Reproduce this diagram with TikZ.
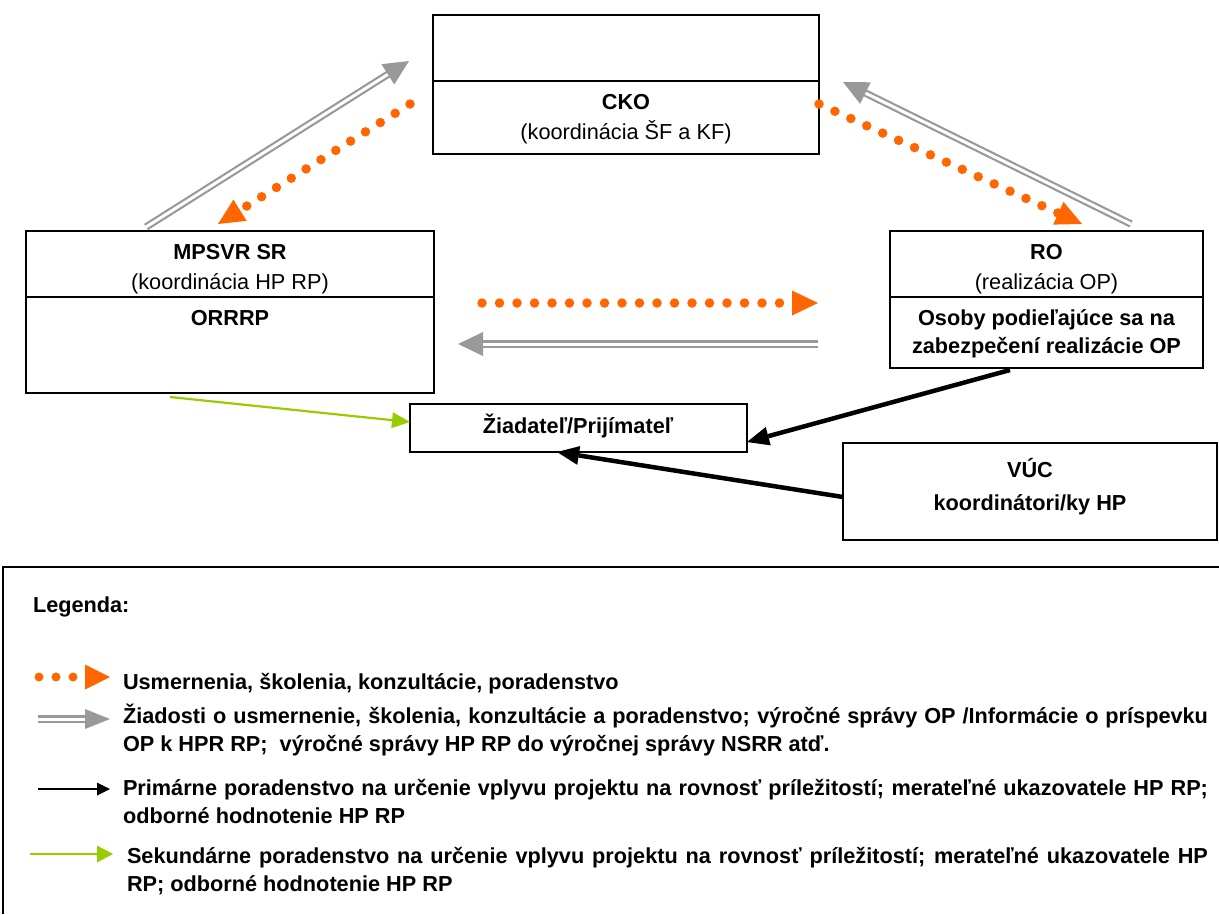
\documentclass[tikz,border=0pt]{standalone}
\usepackage{fontspec}
\setmainfont{Liberation Sans}
\usetikzlibrary{calc,arrows.meta}
\definecolor{orng}{RGB}{255,102,0}
\definecolor{gry}{RGB}{153,153,153}
\definecolor{grn}{RGB}{153,204,0}
\newcommand\arrtri[5]{%
  \coordinate (tmpb) at ($(#1)!#3!(#2)$);
  \fill[#5] (#1) -- ($(tmpb)!#4!90:(#1)$) -- ($(tmpb)!#4!-90:(#1)$) -- cycle;}
\newcommand\orangeconn[2]{%
  \draw[odots] (#1) -- ($(#2)!25pt!(#1)$);
  \arrtri{#2}{#1}{26pt}{12.5pt}{orng}}
\newcommand\grayconn[2]{%
  \draw[gdbl] (#1) -- ($(#2)!22pt!(#1)$);
  \arrtri{#2}{#1}{25pt}{12pt}{gry}}
\begin{document}
\begin{tikzpicture}[x=1pt,y=-1pt,
  every node/.style={inner sep=0pt, outer sep=0pt, font=\fontsize{21.7}{28}\selectfont},
  bx/.style={draw, line width=1.8pt, rectangle},
  txt/.style={anchor=base},
  btxt/.style={anchor=base, font=\fontsize{21.7}{28}\selectfont\bfseries},
  ltxt/.style={anchor=base west, font=\fontsize{21.7}{28}\selectfont\bfseries},
  odots/.style={draw=orng, line width=9.5pt, line cap=round, dash pattern=on 0pt off 17.5pt},
  gdbl/.style={draw=gry, line width=2.2pt, double=white, double distance=3pt},
  blk/.style={draw=black, line width=4.5pt, -{Triangle[length=22pt,width=19pt,line width=0pt]}},
  grnarr/.style={draw=grn, line width=2.2pt, -{Triangle[length=18pt,width=16pt,line width=0pt]}}
]
\useasboundingbox (0,0) rectangle (1219,914);

% boxes
\node[bx, minimum width=386pt, minimum height=139pt] (cko) at (626,84.5) {};
\draw[line width=1.8pt] (433,81) -- (819,81);
\node[bx, minimum width=408pt, minimum height=162pt] (mpsvr) at (230,312) {};
\draw[line width=1.8pt] (26,297) -- (434,297);
\node[bx, minimum width=313pt, minimum height=137pt] (ro) at (1046.5,299.5) {};
\draw[line width=1.8pt] (890,297) -- (1203,297);
\node[bx, minimum width=337pt, minimum height=48pt] (ziad) at (578.5,428) {};
\node[bx, minimum width=374pt, minimum height=97pt] (vuc) at (1030,491.5) {};

% texts
\node[btxt] (ckot) at (626,109) {CKO};
\node[txt] (ckos) at (626,139) {(koordinácia ŠF a KF)};
\node[btxt] (mpt) at (230,259) {MPSVR SR};
\node[txt] (mps) at (230,289) {(koordinácia HP RP)};
\node[btxt] (orr) at (230,325) {ORRRP};
\node[btxt] (rot) at (1046.5,259) {RO};
\node[txt] (ros) at (1046.5,289) {(realizácia OP)};
\node[btxt] (os1) at (1046.5,325) {Osoby podieľajúce sa na};
\node[btxt] (os2) at (1046.5,353) {zabezpečení realizácie OP};
\node[btxt] (zt) at (578,433) {Žiadateľ/Prijímateľ};
\node[btxt] (vt1) at (1030,477) {VÚC};
\node[btxt] (vt2) at (1030,510) {koordinátori/ky HP};

% connector end points
\coordinate (gAs) at (146,227); \coordinate (gAt) at (409,61);
\coordinate (gBs) at (1131,224); \coordinate (gBt) at (843,82);
\coordinate (gCs) at (818,344); \coordinate (gCt) at (458,344);
\coordinate (oAs) at (410,104); \coordinate (oAt) at (218,224);
\coordinate (oBs) at (819,104); \coordinate (oBt) at (1082,224);
\coordinate (oCs) at (482,303); \coordinate (oCt) at (818,303);
\coordinate (grs) at (170,397); \coordinate (grt) at (410,422);
\coordinate (b1s) at (1010,370); \coordinate (b1t) at (747,442);
\coordinate (b2s) at (843,497); \coordinate (b2t) at (557,452);

\grayconn{gAs}{gAt}
\grayconn{gBs}{gBt}
\grayconn{gCs}{gCt}
\orangeconn{oAs}{oAt}
\orangeconn{oBs}{oBt}
\orangeconn{oCs}{oCt}
\draw[grnarr] (grs) -- (grt);
\draw[blk] (b1s) -- (b1t);
\draw[blk] (b2s) -- (b2t);

% legend
\draw[line width=1.8pt] (1219,567) -- (3,567) -- (3,914);
\node[ltxt] (leg) at (33,612) {Legenda:};

\fill[orng] (39,677) circle (4.5pt) (56,677) circle (4.5pt) (73,677) circle (4.5pt);
\fill[orng] (110,677) -- (85,664.5) -- (85,689.5) -- cycle;
\node[ltxt] (l1) at (123,689) {Usmernenia, školenia, konzultácie, poradenstvo};

\draw[gdbl] (38,719) -- (88,719);
\fill[gry] (110,719) -- (85,709) -- (85,729) -- cycle;
\node[ltxt] (l2a) at (123,723) {\makebox[1085pt][s]{Žiadosti o usmernenie, školenia, konzultácie a poradenstvo; výročné správy OP /Informácie o príspevku}};
\node[ltxt] (l2b) at (123,751) {OP k HPR RP;~ výročné správy HP RP do výročnej správy NSRR atď.};

\draw[draw=black, line width=2pt, -{Triangle[length=13pt,width=13pt,line width=0pt]}] (38,789) -- (110,789);
\node[ltxt] (l3a) at (123,795) {\makebox[1085pt][s]{Primárne poradenstvo na určenie vplyvu projektu na rovnosť príležitostí; merateľné ukazovatele HP RP;}};
\node[ltxt] (l3b) at (123,823) {odborné hodnotenie HP RP};

\draw[draw=grn, line width=2.5pt, -{Triangle[length=16pt,width=17pt,line width=0pt]}] (30,854) -- (113,854);
\node[ltxt] (l4a) at (127,863) {\makebox[1081pt][s]{Sekundárne poradenstvo na určenie vplyvu projektu na rovnosť príležitostí; merateľné ukazovatele HP}};
\node[ltxt] (l4b) at (127,891) {RP; odborné hodnotenie HP RP};
\end{tikzpicture}
\end{document}
